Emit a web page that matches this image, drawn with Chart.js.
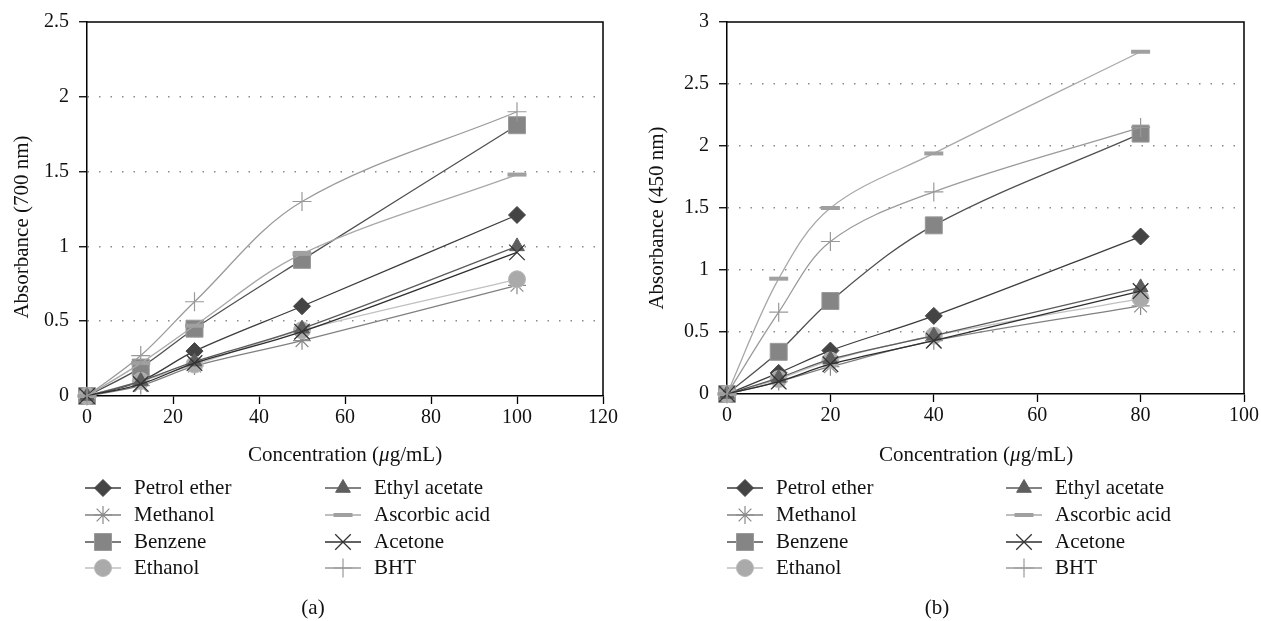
<!DOCTYPE html>
<html lang="en">
<head>
  <meta charset="UTF-8">
  <title>Absorbance vs concentration</title>
  <script src="https://cdn.jsdelivr.net/npm/chart.js"></script>
  <style>
    body {
      margin: 0;
      background: #fff;
    }
    .panel {
      position: absolute;
      top: 0;
      height: 621px;
    }
    #panelA { left: 0; width: 630px; }
    #panelB { left: 630px; width: 631px; }
  </style>
</head>
<body>
  <div class="panel" id="panelA"><canvas id="chartA" width="630" height="621"></canvas></div>
  <div class="panel" id="panelB"><canvas id="chartB" width="631" height="621"></canvas></div>

  <script>
    const solvents = ['Petrol ether', 'Methanol', 'Benzene', 'Ethanol', 'Ethyl acetate', 'Ascorbic acid', 'Acetone', 'BHT'];

    // (a) absorbance at 700 nm
    const concA = [0, 12.5, 25, 50, 100];
    const petrolEtherA = [0, 0.10, 0.30, 0.60, 1.21];
    const methanolA = [0, 0.07, 0.20, 0.37, 0.74];
    const benzeneA = [0, 0.19, 0.45, 0.91, 1.81];
    const ethanolA = [0, 0.10, 0.21, 0.44, 0.78];
    const ethylAcetateA = [0, 0.10, 0.23, 0.45, 1.00];
    const ascorbicA = [0, 0.22, 0.47, 0.95, 1.48];
    const acetoneA = [0, 0.08, 0.22, 0.43, 0.96];
    const bhtA = [0, 0.27, 0.63, 1.30, 1.90];

    // (b) absorbance at 450 nm
    const concB = [0, 10, 20, 40, 80];
    const petrolEtherB = [0, 0.17, 0.35, 0.63, 1.27];
    const methanolB = [0, 0.10, 0.22, 0.43, 0.71];
    const benzeneB = [0, 0.34, 0.75, 1.36, 2.10];
    const ethanolB = [0, 0.12, 0.27, 0.47, 0.77];
    const ethylAcetateB = [0, 0.13, 0.28, 0.47, 0.86];
    const ascorbicB = [0, 0.93, 1.50, 1.94, 2.76];
    const acetoneB = [0, 0.10, 0.24, 0.43, 0.83];
    const bhtB = [0, 0.66, 1.23, 1.63, 2.15];

    const FONT = '"Liberation Serif", "DejaVu Serif", serif';

    // marker / line look for each solvent, same order as solvents
    const styles = [
      { point: 'rectRot', r: 8.5, fill: '#444444', edge: '#444444', bw: 1, line: '#3c3c3c' },
      { point: 'star', r: 9, fill: '#888888', edge: '#8a8a8a', bw: 1.2, line: '#808080' },
      { point: 'rect', r: 12, fill: '#858585', edge: '#9a9a9a', bw: 1, line: '#505050' },
      { point: 'circle', r: 8.5, fill: '#aaaaaa', edge: '#b8b8b8', bw: 1, line: '#c0c0c0' },
      { point: 'triangle', r: 8.5, fill: '#5e5e5e', edge: '#5e5e5e', bw: 1, line: '#5a5a5a' },
      { point: 'line', r: 9.5, fill: '#a0a0a0', edge: '#a0a0a0', bw: 4, line: '#a8a8a8' },
      { point: 'crossRot', r: 11, fill: '#333333', edge: '#333333', bw: 1.3, line: '#2e2e2e' },
      { point: 'cross', r: 9.5, fill: '#999999', edge: '#999999', bw: 1.2, line: '#9a9a9a' }
    ];

    function framePlugin(cfg) {
      return {
        id: 'frame' + cfg.caption,
        afterDraw(chart) {
          const ctx = chart.ctx;
          const a = chart.chartArea;
          ctx.save();
          ctx.strokeStyle = '#000';
          ctx.lineWidth = 1.5;
          ctx.beginPath();
          ctx.moveTo(a.left, a.top);
          ctx.lineTo(a.right, a.top);
          ctx.lineTo(a.right, a.bottom);
          ctx.stroke();

          ctx.fillStyle = '#111';
          ctx.textBaseline = 'middle';

          // y title
          ctx.save();
          ctx.translate(cfg.yTitleX, cfg.yTitleY);
          ctx.rotate(-Math.PI / 2);
          ctx.textAlign = 'center';
          ctx.font = '21px ' + FONT;
          ctx.fillText(cfg.yTitle, 0, 0);
          ctx.restore();

          // x title with italic mu
          const parts = [['Concentration (', ''], ['\u03bc', 'italic '], ['g/mL)', '']];
          let total = 0;
          parts.forEach(p => { ctx.font = p[1] + '21px ' + FONT; total += ctx.measureText(p[0]).width; });
          let x = cfg.xTitleX - total / 2;
          ctx.textAlign = 'left';
          parts.forEach(p => {
            ctx.font = p[1] + '21px ' + FONT;
            ctx.fillText(p[0], x, 455);
            x += ctx.measureText(p[0]).width;
          });

          // legend, two columns
          const rows = [488, 515, 542, 568];
          solvents.forEach((name, i) => {
            const col = Math.floor(i / 4);
            const lx = cfg.legendX[col];
            const ly = rows[i % 4];
            const s = styles[i];
            ctx.strokeStyle = s.line;
            ctx.lineWidth = 1.3;
            ctx.beginPath();
            ctx.moveTo(lx, ly);
            ctx.lineTo(lx + 36, ly);
            ctx.stroke();
            ctx.fillStyle = s.fill;
            ctx.strokeStyle = s.edge;
            ctx.lineWidth = s.bw;
            Chart.helpers.drawPoint(ctx, { pointStyle: s.point, radius: s.r, rotation: 0, borderWidth: s.bw }, lx + 18, ly);
            ctx.fillStyle = '#111';
            ctx.font = '21px ' + FONT;
            ctx.textAlign = 'left';
            ctx.fillText(name, lx + 49, ly);
          });

          // caption
          ctx.font = '21px ' + FONT;
          ctx.textAlign = 'center';
          ctx.fillText(cfg.caption, cfg.captionX, 608);
          ctx.restore();
        }
      };
    }

    function makeChart(id, conc, values, cfg) {
      const datasets = solvents.map((name, i) => ({
        label: name,
        data: conc.map((c, j) => ({ x: c, y: values[i][j] })),
        borderColor: styles[i].line,
        borderWidth: 1.3,
        backgroundColor: styles[i].fill,
        pointStyle: styles[i].point,
        pointRadius: styles[i].r,
        pointHoverRadius: styles[i].r,
        pointBackgroundColor: styles[i].fill,
        pointBorderColor: styles[i].edge,
        pointBorderWidth: styles[i].bw,
        tension: 0.35,
        fill: false,
        clip: false,
        order: solvents.length - i
      }));

      return new Chart(document.getElementById(id), {
        type: 'line',
        data: { datasets },
        options: {
          responsive: false,
          animation: false,
          events: [],
          layout: { padding: cfg.pad },
          plugins: { legend: { display: false }, tooltip: { enabled: false } },
          scales: {
            x: {
              type: 'linear',
              min: 0,
              max: cfg.xMax,
              ticks: { stepSize: 20, color: '#111', font: { family: FONT, size: 20 }, padding: 2, maxRotation: 0 },
              grid: { drawOnChartArea: false, tickLength: 8, tickColor: '#000', tickWidth: 1.3 },
              border: { color: '#000', width: 1.5 },
              afterFit: s => { s.height = 70; }
            },
            y: {
              type: 'linear',
              min: 0,
              max: cfg.yMax,
              ticks: {
                stepSize: 0.5,
                color: '#111',
                font: { family: FONT, size: 20 },
                padding: 10,
                callback: v => String(Math.round(v * 10) / 10)
              },
              grid: {
                color: c => (c.tick && c.tick.value > 0 && c.tick.value < cfg.yMax) ? '#8a8a8a' : 'rgba(0,0,0,0)',
                lineWidth: 1.5,
                tickLength: 8,
                tickColor: '#000',
                tickWidth: 1.3
              },
              border: { color: '#000', width: 1.5, dash: [1.5, 10] },
              afterFit: s => { s.width = cfg.yWidth; }
            }
          }
        },
        plugins: [framePlugin(cfg)]
      });
    }

    makeChart('chartA', concA,
      [petrolEtherA, methanolA, benzeneA, ethanolA, ethylAcetateA, ascorbicA, acetoneA, bhtA],
      {
        xMax: 120, yMax: 2.5, yTitle: 'Absorbance (700 nm)', caption: '(a)',
        pad: { left: 0, top: 21, right: 27, bottom: 155 }, yWidth: 87,
        yTitleX: 22, yTitleY: 227, xTitleX: 345, legendX: [85, 325], captionX: 313
      });

    makeChart('chartB', concB,
      [petrolEtherB, methanolB, benzeneB, ethanolB, ethylAcetateB, ascorbicB, acetoneB, bhtB],
      {
        xMax: 100, yMax: 3, yTitle: 'Absorbance (450 nm)', caption: '(b)',
        pad: { left: 0, top: 19, right: 16, bottom: 157 }, yWidth: 97,
        yTitleX: 27, yTitleY: 218, xTitleX: 346, legendX: [97, 376], captionX: 307
      });
  </script>
</body>
</html>
